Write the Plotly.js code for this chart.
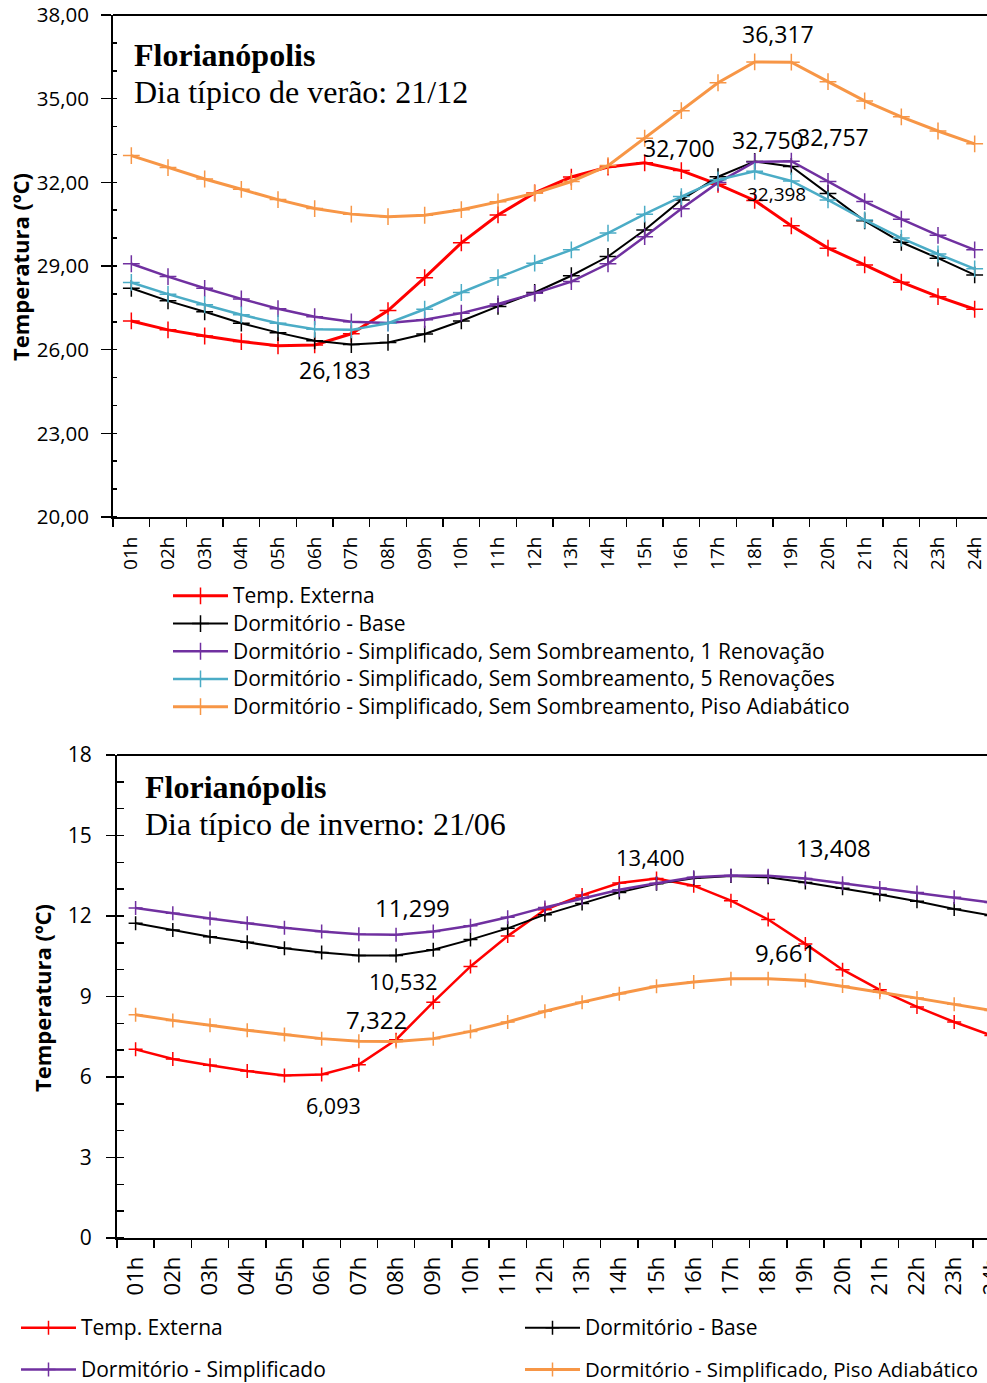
<!DOCTYPE html>
<html>
<head>
<meta charset="utf-8">
<script src="https://cdn.plot.ly/plotly-3.0.1.min.js"></script>
<style>html,body{margin:0;padding:0;background:#fff;overflow:hidden;width:987px;height:1383px;}#chart{width:1012px;height:1400px;}</style>
</head>
<body>
<div id="chart"></div>
<script>
// ---- categories ----
const hours = ["01h","02h","03h","04h","05h","06h","07h","08h","09h","10h","11h","12h",
               "13h","14h","15h","16h","17h","18h","19h","20h","21h","22h","23h","24h"];

// ---- Summer (21/12) ----
const summerExterna   = [27.03,26.71,26.49,26.29,26.14,26.17,26.57,27.40,28.58,29.83,30.83,31.62,
                         32.19,32.55,32.70,32.42,31.93,31.35,30.44,29.64,29.04,28.42,27.90,27.45];
const summerBase      = [28.20,27.75,27.36,26.95,26.61,26.32,26.183,26.26,26.56,27.03,27.55,28.05,
                         28.65,29.34,30.29,31.37,32.20,32.75,32.57,31.60,30.62,29.85,29.28,28.68];
const summer1Renov    = [29.08,28.62,28.20,27.82,27.47,27.18,27.00,26.96,27.07,27.31,27.64,28.02,
                         28.44,29.08,30.05,31.05,31.99,32.73,32.757,32.03,31.31,30.68,30.10,29.58];
const summer5Renov    = [28.41,27.99,27.61,27.25,26.95,26.73,26.71,26.95,27.45,28.05,28.58,29.10,
                         29.58,30.18,30.86,31.49,32.09,32.398,32.05,31.37,30.65,30.00,29.43,28.90];
const summerAdiab     = [32.96,32.53,32.12,31.75,31.38,31.06,30.86,30.77,30.82,31.02,31.30,31.61,
                         32.03,32.60,33.58,34.57,35.57,36.317,36.31,35.61,34.92,34.35,33.84,33.38];

// ---- Winter (21/06) ----
const winterExterna   = [7.03,6.67,6.44,6.22,6.06,6.093,6.46,7.39,8.79,10.12,11.25,12.23,
                         12.78,13.23,13.40,13.13,12.57,11.87,10.96,10.00,9.25,8.61,8.05,7.55];
const winterBase      = [11.73,11.48,11.23,11.02,10.80,10.64,10.532,10.532,10.74,11.12,11.54,12.05,
                         12.47,12.88,13.20,13.41,13.49,13.44,13.25,13.03,12.80,12.55,12.26,12.02];
const winterSimpl     = [12.30,12.10,11.91,11.73,11.56,11.42,11.32,11.299,11.42,11.64,11.95,12.32,
                         12.66,12.98,13.22,13.44,13.51,13.50,13.40,13.22,13.04,12.88,12.70,12.50];
const winterAdiab     = [8.32,8.11,7.93,7.74,7.58,7.43,7.33,7.322,7.43,7.70,8.05,8.45,
                         8.79,9.10,9.38,9.54,9.661,9.66,9.60,9.39,9.16,8.94,8.71,8.48];

// ---- texts ----
const namesSummer = ["Temp. Externa","Dormitório - Base",
  "Dormitório - Simplificado, Sem Sombreamento, 1 Renovação",
  "Dormitório - Simplificado, Sem Sombreamento, 5 Renovações",
  "Dormitório - Simplificado, Sem Sombreamento, Piso Adiabático"];
const namesWinter = ["Temp. Externa","Dormitório - Base","Dormitório - Simplificado",
  "Dormitório - Simplificado, Piso Adiabático"];
const summerLabels = ["36,317","32,700","32,750","32,757","32,398","26,183"];
const winterLabels = ["13,400","13,408","11,299","10,532","9,661","7,322","6,093"];
const yTitle = "Temperatura (ºC)";
const cityName = "Florianópolis";
const summerSub = "Dia típico de verão: 21/12";
const winterSub = "Dia típico de inverno: 21/06";

const C = {red:"#FF0000", black:"#000000", purple:"#7030A0", cyan:"#4BACC6", orange:"#F79646"};
const SANS = "Open Sans, sans-serif";
const SERIF = "Liberation Serif, Times New Roman, serif";

function tr(y, name, color, width, xa, ya, legend, group, msize, nameSize){
  return {x: hours, y: y, name: '<span style="font-size:' + nameSize + 'px">' + name + '</span>',
    type: "scatter", mode: "lines+markers",
    xaxis: xa, yaxis: ya, legend: legend, legendgroup: group,
    line: {color: color, width: width},
    marker: {symbol: "cross-thin", size: msize, color: color, line: {color: color, width: 1.5}}};
}

const data = [
  tr(summerExterna, namesSummer[0], C.red, 3, "x", "y", "legend", "s1", 12, 21),
  tr(summerBase, namesSummer[1], C.black, 2, "x", "y", "legend", "s2", 12, 21),
  tr(summer1Renov, namesSummer[2], C.purple, 2.5, "x", "y", "legend", "s3", 12, 21),
  tr(summer5Renov, namesSummer[3], C.cyan, 2.5, "x", "y", "legend", "s4", 12, 21),
  tr(summerAdiab, namesSummer[4], C.orange, 3, "x", "y", "legend", "s5", 12, 21),
  tr(winterExterna, namesWinter[0], C.red, 2.5, "x2", "y2", "legend2", "w1", 10, 21),
  tr(winterBase, namesWinter[1], C.black, 2, "x2", "y2", "legend3", "w2", 10, 21),
  tr(winterSimpl, namesWinter[2], C.purple, 2.5, "x2", "y2", "legend2", "w3", 10, 21),
  tr(winterAdiab, namesWinter[3], C.orange, 3, "x2", "y2", "legend3", "w4", 10, 20.4)
];

const W = 1012, H = 1400;
const px = v => v / W, py = v => 1 - v / H;

function ann(text, x, y, size, opts){
  return Object.assign({text: text, xref: "paper", yref: "paper", x: px(x), y: py(y),
    xanchor: "center", yanchor: "middle", showarrow: false,
    font: {family: SANS, size: size, color: "#000"}}, opts || {});
}
const serifFont = {family: SERIF, size: 32, color: "#000"};

const annotations = [
  ann("<b>" + cityName + "</b>", 132, 55, 32, {xanchor: "left", font: serifFont}),
  ann(summerSub, 132, 92, 32, {xanchor: "left", font: serifFont}),
  ann("<b>" + cityName + "</b>", 143, 787, 32, {xanchor: "left", font: serifFont}),
  ann(winterSub, 143, 824, 32, {xanchor: "left", font: serifFont}),
  ann("<b>" + yTitle + "</b>", 20, 267, 22, {textangle: -90}),
  ann("<b>" + yTitle + "</b>", 42, 998, 22, {textangle: -90}),
  ann(summerLabels[0], 778, 34, 23),
  ann(summerLabels[1], 679, 148, 23),
  ann(summerLabels[2], 768, 140, 23),
  ann(summerLabels[3], 833, 137, 23),
  ann(summerLabels[4], 776, 194, 19),
  ann(summerLabels[5], 335, 370, 23),
  ann(winterLabels[0], 650, 857, 22),
  ann(winterLabels[1], 833, 847, 24),
  ann(winterLabels[2], 412, 907, 24),
  ann(winterLabels[3], 403, 981, 22),
  ann(winterLabels[4], 785, 952, 24),
  ann(winterLabels[5], 376, 1019, 24),
  ann(winterLabels[6], 333, 1105, 21.5)
];

const xCommon = {type: "category", tickson: "boundaries", ticks: "outside", ticklen: 8, tickwidth: 1.5,
  tickcolor: "#000", tickangle: -90, showline: true, linewidth: 2, linecolor: "#000",
  showgrid: false, zeroline: false, fixedrange: true};
const yCommon = {ticks: "outside", tickwidth: 1.5, tickcolor: "#000", showline: true, linewidth: 2,
  linecolor: "#000", showgrid: false, zeroline: false, fixedrange: true};

const legFont = {family: SANS, size: 19, color: "#000"};

const layout = {
  width: W, height: H, margin: {l: 0, r: 0, t: 0, b: 0},
  paper_bgcolor: "#fff", plot_bgcolor: "#fff",
  separators: ",.",
  font: {family: SANS, color: "#000"},
  showlegend: true,
  xaxis: Object.assign({}, xCommon, {domain: [px(113), px(993)], range: [-0.5, 23.5], anchor: "y",
    ticklabelstandoff: 10, tickfont: {family: SANS, size: 19, color: "#000"}}),
  yaxis: Object.assign({}, yCommon, {domain: [py(517), py(15)], range: [20, 38], anchor: "x",
    tickvals: [20, 23, 26, 29, 32, 35, 38], tickformat: ".2f", ticklen: 10, ticklabelstandoff: 8,
    minor: {dtick: 1, ticks: "inside", ticklen: 4, tickcolor: "#000", tickwidth: 1.5},
    tickfont: {family: SANS, size: 20.5, color: "#000"}}),
  xaxis2: Object.assign({}, xCommon, {domain: [px(117), px(1010)], range: [-0.5, 23.5], anchor: "y2",
    ticklabelstandoff: 8, tickfont: {family: SANS, size: 22, color: "#000"}}),
  yaxis2: Object.assign({}, yCommon, {domain: [py(1238), py(755)], range: [0, 18], anchor: "x2",
    tickvals: [0, 3, 6, 9, 12, 15, 18], ticklen: 9, ticklabelstandoff: 10,
    minor: {dtick: 1, ticks: "inside", ticklen: 7, tickcolor: "#000", tickwidth: 1.5},
    tickfont: {family: SANS, size: 21, color: "#000"}}),
  legend: {x: px(168), y: py(577), xanchor: "left", yanchor: "top", bgcolor: "rgba(0,0,0,0)",
    itemwidth: 55, traceorder: "grouped", tracegroupgap: 0, font: legFont},
  legend2: {x: px(16), y: py(1309), xanchor: "left", yanchor: "top", bgcolor: "rgba(0,0,0,0)",
    itemwidth: 55, traceorder: "grouped", tracegroupgap: 14, font: legFont},
  legend3: {x: px(520), y: py(1309), xanchor: "left", yanchor: "top", bgcolor: "rgba(0,0,0,0)",
    itemwidth: 55, traceorder: "grouped", tracegroupgap: 14, font: legFont},
  shapes: [
    {type: "line", xref: "x domain", yref: "y domain", x0: 0, x1: 1, y0: 1, y1: 1, line: {color: "#000", width: 2}},
    {type: "line", xref: "x2 domain", yref: "y2 domain", x0: 0, x1: 1, y0: 1, y1: 1, line: {color: "#000", width: 2}}
  ],
  annotations: annotations
};

Plotly.newPlot("chart", data, layout, {staticPlot: true, displayModeBar: false});
</script>
</body>
</html>
